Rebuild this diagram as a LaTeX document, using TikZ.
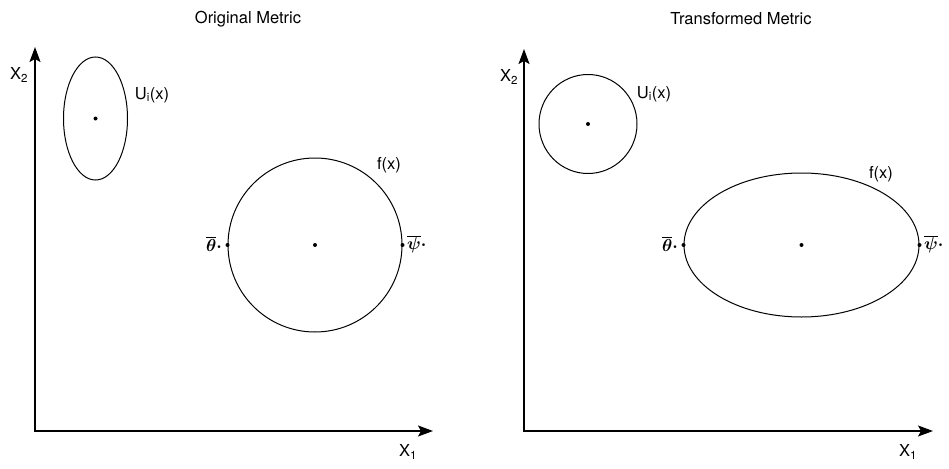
\documentclass[tikz,border=0pt]{standalone}
\usepackage{fontspec}
\setmainfont{TeX Gyre Heros}
\usetikzlibrary{arrows.meta, shapes.geometric}

\begin{document}
\begin{tikzpicture}[x=1pt, y=-1pt, font=\fontsize{16.5}{19}\selectfont]
  \tikzset{
    axis/.style={line width=1.3pt,
                 {Stealth[length=15pt, width=11pt, inset=3pt]}-{Stealth[length=15pt, width=11pt, inset=3pt]}},
    contour/.style={ellipse, draw=black, line width=1pt, inner sep=0pt},
    pt/.style={circle, fill=black, inner sep=0pt, minimum size=4pt},
    bound/.style={inner sep=1pt, font=\fontsize{18}{20}\selectfont\boldmath}
  }
  \useasboundingbox (0,0) rectangle (949,468);

  % original metric
  \node (ttlA) at (248,19) {Original Metric};
  \coordinate (oA) at (35,431);
  \coordinate (xA) at (433,431);
  \coordinate (yA) at (35,47);
  \draw[axis] (yA) -- (oA) -- (xA);
  \node (lxA) at (408,452) {X\textsubscript{1}};
  \node (lyA) at (19,75) {X\textsubscript{2}};
  \node[contour, minimum width=64, minimum height=123] (uA) at (95.5,118.5) {};
  \node[pt] (cuA) at (uA.center) {};
  \node (luA) at (152,95) {U\textsubscript{i}(x)};
  \node[contour, minimum width=174, minimum height=174] (fA) at (315,245) {};
  \node[pt] (cfA) at (fA.center) {};
  \node[pt] (thA) at (fA.west) {};
  \node[pt] (psA) at (fA.east) {};
  \node (lfA) at (389,165) {f(x)};
  \node[bound, anchor=east] (lthA) at (223,244) {$\overline{\theta}\cdot$};
  \node[bound, anchor=west] (lpsA) at (406,244) {$\overline{\psi}\cdot$};

  % transformed metric
  \node (ttlB) at (741,19) {Transformed Metric};
  \coordinate (oB) at (524,431);
  \coordinate (xB) at (933,431);
  \coordinate (yB) at (524,49);
  \draw[axis] (yB) -- (oB) -- (xB);
  \node (lxB) at (908,452) {X\textsubscript{1}};
  \node (lyB) at (509,77) {X\textsubscript{2}};
  \node[contour, minimum width=98, minimum height=99] (uB) at (588,124) {};
  \node[pt] (cuB) at (uB.center) {};
  \node (luB) at (654,94) {U\textsubscript{i}(x)};
  \node[contour, minimum width=235, minimum height=144] (fB) at (801.5,245) {};
  \node[pt] (cfB) at (fB.center) {};
  \node[pt] (thB) at (fB.west) {};
  \node[pt] (psB) at (fB.east) {};
  \node (lfB) at (881,174) {f(x)};
  \node[bound, anchor=east] (lthB) at (679,244) {$\overline{\theta}\cdot$};
  \node[bound, anchor=west] (lpsB) at (923,244) {$\overline{\psi}\cdot$};
\end{tikzpicture}
\end{document}
